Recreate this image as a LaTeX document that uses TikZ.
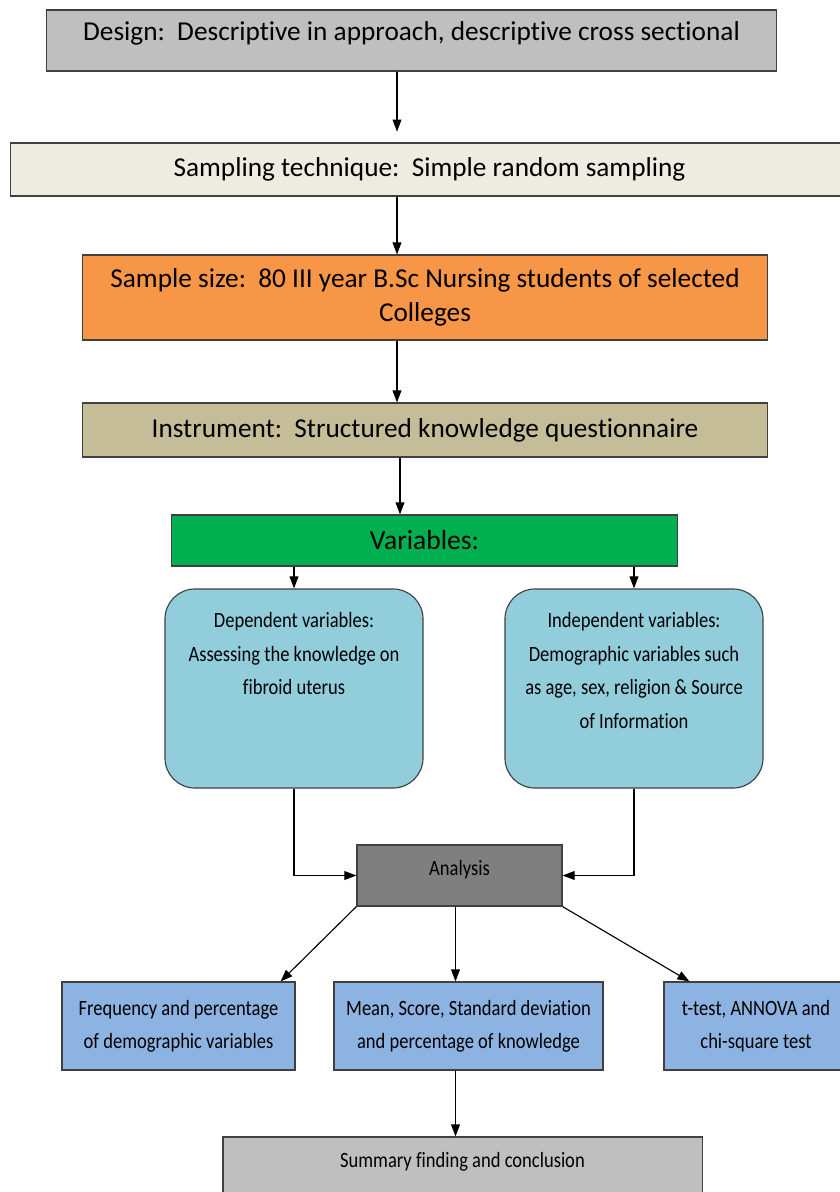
\documentclass[tikz,border=0pt]{standalone}
\usepackage{fontspec}
\setmainfont{Carlito}[Ligatures=NoCommon]
\newfontfamily\narrowfont{Carlito}[FakeStretch=0.85, Ligatures=NoCommon]
\usetikzlibrary{positioning, arrows.meta}

\definecolor{designgray}{HTML}{BFBFBF}
\definecolor{samplingbeige}{HTML}{EEECE1}
\definecolor{sizeorange}{HTML}{F79646}
\definecolor{instrtan}{HTML}{C4BD97}
\definecolor{varsgreen}{HTML}{00B050}
\definecolor{varblue}{HTML}{92CDDC}
\definecolor{anagray}{HTML}{7F7F7F}
\definecolor{resblue}{HTML}{8DB3E2}

\begin{document}
\begin{tikzpicture}[x=0.025cm, y=-0.025cm,
		box/.style={draw=black!75, line width=0.8pt, inner sep=0pt, font=\fontsize{19.4}{24.1}\selectfont},
		varbox/.style={draw=black!75, line width=0.8pt, fill=varblue, rounded corners=0.75cm, minimum width=6.45cm, minimum height=4.975cm},
		vartext/.style={inner sep=0pt, align=center, font=\narrowfont\fontsize{15.5}{23.8}\selectfont},
		resbox/.style={draw=black!75, line width=0.8pt, fill=resblue, inner sep=0pt, align=center, minimum height=2.2cm, font=\narrowfont\fontsize{15.5}{23.4}\selectfont},
		arr/.style={-{Triangle[length=0.3cm, width=0.22cm]}, line width=0.8pt}]
		% Page frame
		\useasboundingbox (0, 0) rectangle (840, 1192);
		\clip (0, 0) rectangle (840, 1192);
		
		% Study steps
		\node[box, fill=designgray, minimum width=18.225cm, minimum height=1.525cm, text height=0.5cm, text depth=0.5cm] (design) at (411.5, 40.5) {Design:~~Descriptive in approach, descriptive cross sectional};
		\node[box, fill=samplingbeige, minimum width=20.925cm, minimum height=1.325cm] (sampling) at (429.5, 169.5) {Sampling technique:~~Simple random sampling};
		\node[box, fill=sizeorange, minimum width=17.1cm, minimum height=2.125cm, align=center] (size) at (425, 297.5) {Sample size:~~80 III year B.Sc Nursing students of selected\\Colleges};
		\node[box, fill=instrtan, minimum width=17.1cm, minimum height=1.35cm] (instr) at (425, 430) {Instrument:~~Structured knowledge questionnaire};
		\node[box, fill=varsgreen, minimum width=12.625cm, minimum height=1.275cm, font=\fontsize{19.6}{24}\selectfont] (vars) at (424.5, 540.5) {Variables:};
		\coordinate (spine) at (397, 0);
		
		% Variables
		\node[varbox] (dep) at (294, 688.5) {};
		\node[vartext, below=0.6cm of dep.north] (depText) {Dependent variables:\\Assessing the knowledge on\\fibroid uterus};
		\node[varbox] (indep) at (634, 688.5) {};
		\node[vartext, below=0.6cm of indep.north] (indepText) {Independent variables:\\Demographic variables such\\as age, sex, religion \& Source\\of Information};
		
		% Analysis and results
		\node[box, fill=anagray, minimum width=5.125cm, minimum height=1.525cm, text height=0.45cm, text depth=0.45cm, font=\narrowfont\fontsize{15.5}{20}\selectfont] (ana) at (459.5, 875.5) {Analysis};
		\node[resbox, minimum width=5.825cm] (freq) at (178.5, 1026) {Frequency and percentage\\of demographic variables};
		\node[resbox, minimum width=6.725cm] (mean) at (468.5, 1026) {Mean, Score, Standard deviation\\and percentage of knowledge};
		\node[resbox, minimum width=4.6cm] (ttest) at (756, 1026) {t-test, ANNOVA and\\chi-square test};
		\node[box, fill=designgray, minimum width=11.975cm, minimum height=1.5cm, text height=0.45cm, text depth=0.45cm, font=\narrowfont\fontsize{15.5}{20}\selectfont] (sum) at (462.5, 1167) {Summary finding and conclusion};
		
		% Connectors
		\draw[arr, shorten >=0.27cm] (design.south -| spine) -- (sampling.north -| spine);
		\draw[arr] (sampling.south -| spine) -- (size.north -| spine);
		\draw[arr] (size.south -| spine) -- (instr.north -| spine);
		\draw[arr] ([xshift=0.075cm]instr.south -| spine) -- ([xshift=0.075cm]vars.north -| spine);
		\draw[arr] (vars.south -| dep.north) -- (dep.north);
		\draw[arr] (vars.south -| indep.north) -- (indep.north);
		\draw[arr] (dep.south) |- (ana.west);
		\draw[arr] (indep.south) |- (ana.east);
		\draw[arr] (ana.south west) -- ([xshift=-0.375cm]freq.north east);
		\draw[arr] ([xshift=-0.1cm]ana.south) -- ([xshift=-0.1cm]ana.south |- mean.north);
		\draw[arr] (ana.south east) -- ([xshift=0.65cm]ttest.north west);
		\draw[arr] ([xshift=-0.1cm]ana.south |- mean.south) -- ([xshift=-0.1cm]ana.south |- sum.north);
\end{tikzpicture}
\end{document}
